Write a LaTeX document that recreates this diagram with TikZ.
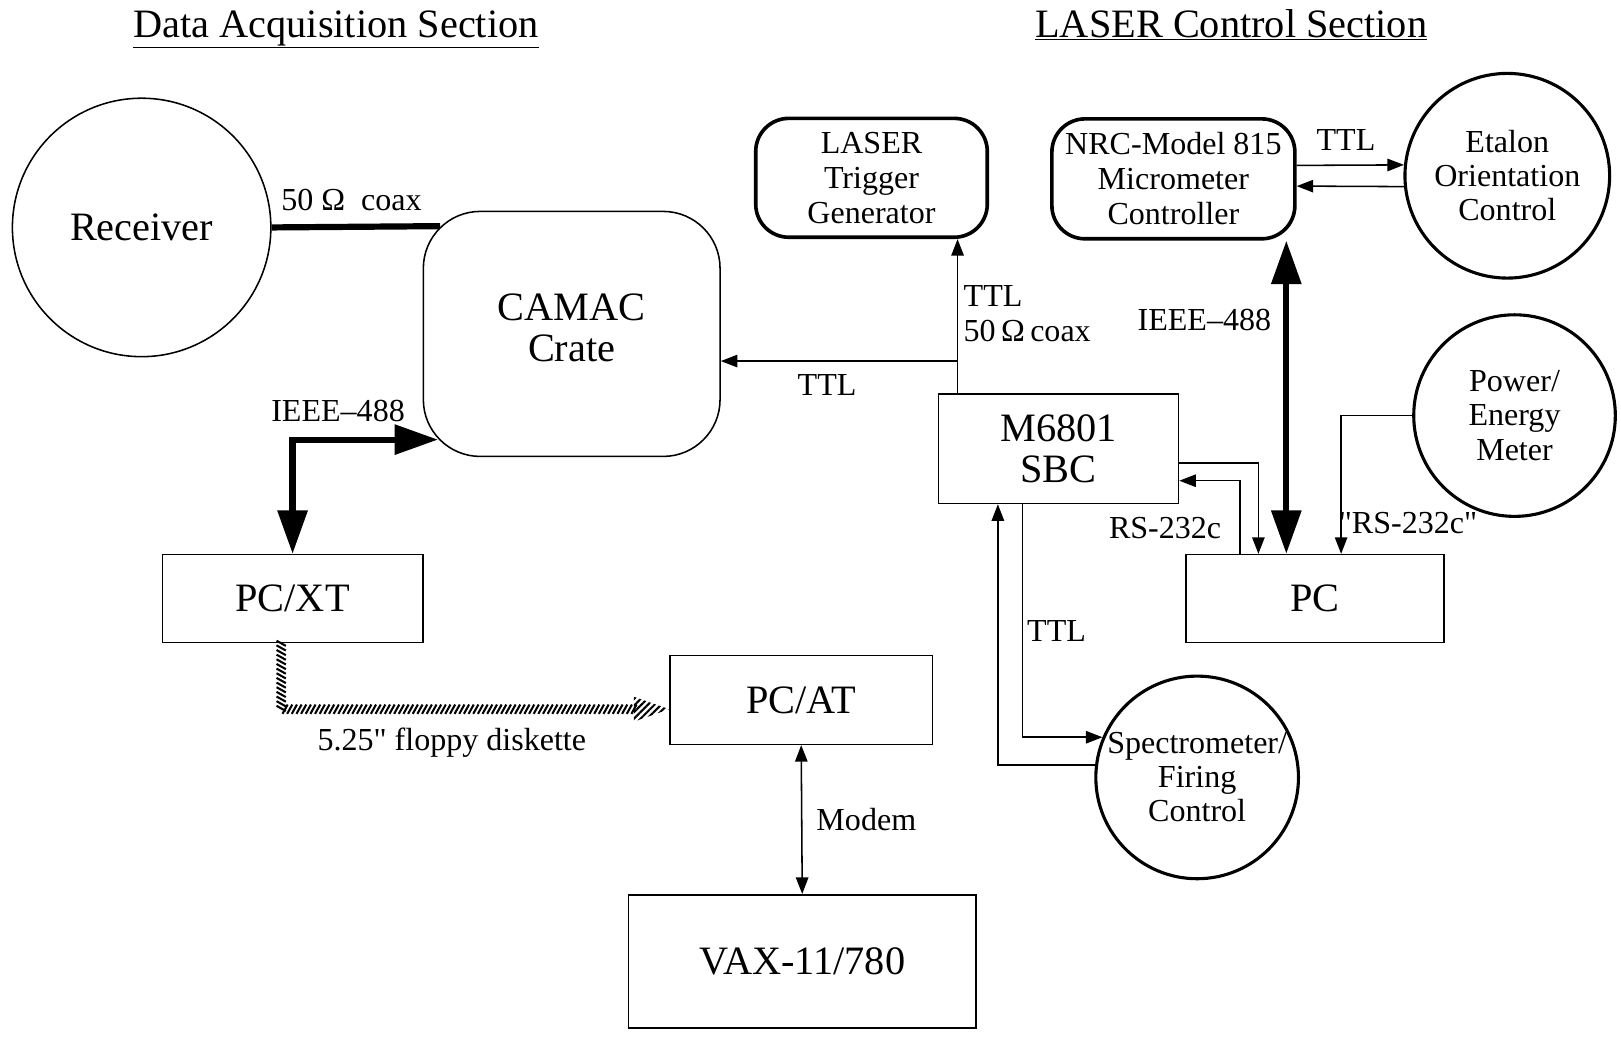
\documentclass[tikz,border=0pt]{standalone}
\usepackage{fontspec}
\setmainfont{Liberation Serif}[Ligatures=TeXOff]
\usetikzlibrary{arrows.meta,calc,decorations.markings,patterns.meta}

\tikzset{
  bigfont/.style={font=\fontsize{39}{42}\selectfont},
  lab/.style={font=\fontsize{31}{34}\selectfont, inner sep=0pt},
  box/.style={draw, rectangle, line width=1.5pt, bigfont, align=center},
  rbox/.style={box, rounded corners=55},
  tbox/.style={draw, rectangle, line width=3.5pt, rounded corners=32,
    font=\fontsize{31}{34}\selectfont, align=center},
  circ/.style={draw, circle, inner sep=0pt, line width=3pt,
    font=\fontsize{31}{33}\selectfont, align=center},
  heading/.style={font=\fontsize{39}{42}\selectfont, anchor=base, inner sep=0pt},
  bigtip/.tip={Triangle[length=42pt,width=28pt]},
  >={Triangle[length=16pt,width=12pt]},
  wire/.style={line width=1.5pt},
  bus/.style={line width=6pt},
  hatch/.style={decorate, decoration={markings,
    mark=between positions 0 and 1 step 4.5pt with
      {\draw[line width=2pt] (-2.5pt,-4.5pt) -- (2.5pt,4.5pt);}}}
}

\begin{document}
\begin{tikzpicture}[x=1pt, y=-1pt]
  \useasboundingbox (0,0) rectangle (1568,1003);

  % section titles
  \node[heading] (tdaq) at (325,36) {\underline{Data Acquisition Section}};
  \node[heading] (tlaser) at (1191,36) {\underline{LASER Control Section}};

  % data acquisition side
  \node[circ, line width=1.5pt, minimum size=250, bigfont] (recv) at (137,220) {Receiver};
  \node[rbox, minimum width=287, minimum height=237] (camac) at (553,323) {CAMAC\\[-2pt]Crate\\[-42pt]\strut};
  \node[box, minimum width=252, minimum height=85] (pcxt) at (283,579) {PC/XT};
  \node[box, minimum width=254, minimum height=86] (pcat) at (775,677) {PC/AT};
  \node[box, minimum width=336, minimum height=129] (vax) at (776,930) {VAX-11/780};

  % laser control side
  \node[tbox, minimum width=224, minimum height=115] (trig) at (843,172) {LASER\\Trigger\\Generator};
  \node[tbox, minimum width=235, minimum height=116] (nrc) at (1135,173) {NRC-Model 815\\Micrometer\\Controller};
  \node[circ, minimum size=198] (etalon) at (1458,170) {Etalon\\Orientation\\Control};
  \node[box, minimum width=232, minimum height=106] (sbc) at (1024,434) {M6801\\[-2pt]SBC};
  \node[circ, minimum size=195] (power) at (1465,402) {Power/\\Energy\\Meter};
  \node[box, minimum width=250, minimum height=85] (pc) at (1272,579) {PC};
  \node[circ, minimum size=196] (spec) at (1158,752) {Spectrometer/\\Firing\\Control};

  % receiver to crate
  \coordinate (coaxend) at ($(camac.north west)+(17,15)$);
  \draw[bus] (recv.east) -- (coaxend);
  \node[lab] (lcoax) at (340,193) {50 Ω\ \ coax};

  % crate to PC/XT
  \coordinate (ieeeend) at ($(camac.south west)+(15,-17)$);
  \draw[bus, bigtip-bigtip] (pcxt.north) |- (ieeeend);
  \node[lab] (lieeea) at (327,398) {IEEE–488};

  % floppy transfer
  \coordinate (fstart) at ($(pcxt.south)+(-11,0)$);
  \coordinate (fend) at ($(pcat.west)+(0,9)$);
  \coordinate (fhead) at ($(fend)+(-34,0)$);
  \path[hatch] (fstart) |- (fhead);
  \fill[pattern={Lines[angle=45,distance=4.5pt,line width=2pt]}]
    ($(fhead)+(0,-12)$) -- (fend) -- ($(fhead)+(0,12)$) -- cycle;
  \node[lab] (lfloppy) at (437,718) {5.25" floppy diskette};

  % modem link
  \draw[wire, <->] (pcat.south) -- (vax.north);
  \node[lab] (lmodem) at (838,793) {Modem};

  % trigger lines
  \coordinate (ttlup) at ($(sbc.north west)+(19,0)$);
  \coordinate (ttlbr) at ($(ttlup)+(0,-31)$);
  \draw[wire, ->] (ttlup) -- (ttlup |- trig.south);
  \draw[wire, ->] (ttlbr) -- (ttlbr -| camac.east);
  \node[lab] (lttla) at (800,372) {TTL};
  \node[lab, anchor=west, align=left] (lttlb) at (932,303) {TTL\\50\,Ω\,coax};

  % micrometer and etalon
  \draw[wire, ->] ($(nrc.east)+(0,-13)$) -- (etalon.174);
  \draw[wire, ->] (etalon.186) -- ($(nrc.east)+(0,7)$);
  \node[lab] (lttlc) at (1302,135) {TTL};
  \coordinate (ieeeb) at ($(pc.north west)+(98,0)$);
  \draw[bus, bigtip-bigtip] (ieeeb) -- (ieeeb |- nrc.south);
  \node[lab] (lieeeb) at (1165,310) {IEEE–488};

  % meter to PC
  \draw[wire, ->] (power.west) -| ($(pc.north west)+(151,0)$);
  \node[lab] (lrsb) at (1362,506) {"RS-232c"};

  % SBC and PC
  \draw[wire, ->] ($(sbc.east)+(0,14)$) -| ($(pc.north west)+(71,0)$);
  \draw[wire, ->] ($(pc.north west)+(53,0)$) |- ($(sbc.east)+(0,31)$);
  \node[lab] (lrsa) at (1127,511) {RS-232c};

  % SBC and spectrometer
  \draw[wire, ->] ($(sbc.south west)+(82,0)$) |- (spec.157);
  \draw[wire, ->] (spec.173) -| ($(sbc.south west)+(58,0)$);
  \node[lab] (lttld) at (1022,610) {TTL};
\end{tikzpicture}
\end{document}
